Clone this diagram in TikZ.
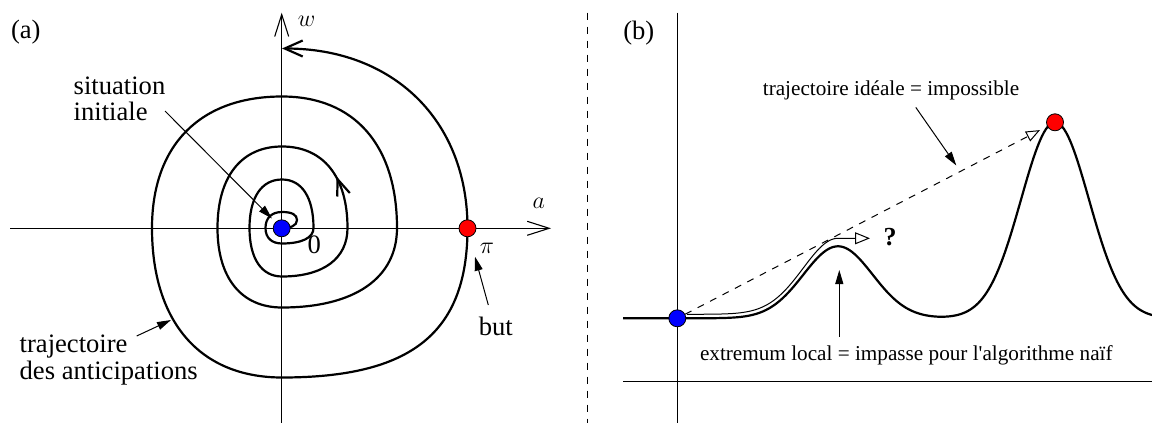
\documentclass[tikz,border=0pt]{standalone}
\usepackage{fontspec}
\setmainfont{Liberation Serif}[Ligatures=TeXOff]
\usetikzlibrary{arrows.meta}
\pgfdeclarelayer{background}
\pgfsetlayers{background,main}
\begin{document}
\begin{tikzpicture}[x=0.5pt,y=-0.5pt,
  axis/.style={line width=0.55pt},
  axisarrow/.style={axis,-{Straight Barb[length=11pt,width=7pt]}},
  traj/.style={line width=1.1pt},
  dot/.style={circle,draw=black,line width=0.4pt,minimum size=8.5pt,inner sep=0pt},
  lbl/.style={font=\fontsize{13.3}{13.3}\selectfont,inner sep=0pt},
  mlbl/.style={font=\fontsize{12.5}{12.5}\selectfont,inner sep=0pt},
  slbl/.style={font=\fontsize{10.6}{12}\selectfont,inner sep=0pt},
  ptr/.style={line width=0.5pt,-{Triangle[length=7pt,width=4pt]}},
  sep/.style={line width=0.5pt,dash pattern=on 3.5pt off 3.5pt},
]
\useasboundingbox (0,0) rectangle (1152,423);

% ---------- panel (a) ----------
\coordinate (aL) at (10,228.3);
\coordinate (aR) at (551,228.3);
\coordinate (wB) at (281.7,423);
\coordinate (wT) at (281.7,12.7);

\node[dot,fill=blue] (s0) at (281.7,228.3) {};
\node[dot,fill=red] (g0) at (467.5,228.3) {};

\begin{pgfonlayer}{background}
\draw[axisarrow] (aL) -- (aR);
\draw[axisarrow] (wB) -- (wT);
\draw[traj,-{Straight Barb[length=9pt,width=8pt]}]
 (282,228) .. controls (290,228) and (297,226) .. (297,220)
 .. controls (297,214.7) and (291.9,212) .. (282,212)
 .. controls (271.6,212) and (265.5,217.9) .. (265.5,228)
 .. controls (265.5,237.8) and (271.6,243.5) .. (282,243.5)
 .. controls (301.85,243.5) and (313.5,237.8) .. (313.5,228)
 .. controls (313.5,197.44) and (301.85,179.5) .. (282,179.5)
 .. controls (261.52,179.5) and (249.5,197.44) .. (249.5,228)
 .. controls (249.5,258.56) and (261.52,276.5) .. (282,276.5)
 .. controls (323.27,276.5) and (347.5,258.56) .. (347.5,228)
 .. controls (347.5,176.65) and (323.27,146.5) .. (282,146.5)
 .. controls (241.36,146.5) and (217.5,176.65) .. (217.5,228)
 .. controls (217.5,278.09) and (241.36,307.5) .. (282,307.5)
 .. controls (354.45,307.5) and (397,278.09) .. (397,228)
 .. controls (397,145.15) and (354.45,96.5) .. (282,96.5)
 .. controls (200.1,96.5) and (152,145.15) .. (152,228)
 .. controls (152,322.19) and (200.1,377.5) .. (282,377.5)
 .. controls (411.85,377.5) and (467.5,332.65) .. (467.5,228)
 .. controls (467.5,120.3) and (393.3,48.5) .. (282,48.5);
\end{pgfonlayer}
\draw[traj] (337.2,196.5) -- (337.6,179.3) -- (349.8,193);

\node[lbl] (la) at (25.8,32.5) {(a)};
\node[mlbl] (lw) at (306.7,21) {$w$};
\node[mlbl] (lax) at (538.7,203.3) {$a$};
\node[mlbl] (lpi) at (487,248.7) {$\pi$};
\node[lbl] (l0) at (314.2,245) {0};
\node[lbl,anchor=base] (lbut) at (495.8,335) {but};
\node[lbl,anchor=north west,align=left] (lsit) at (73.3,76) {situation\\initiale};
\node[lbl,anchor=north west,align=left] (ltraj) at (19.3,334.5) {trajectoire\\des anticipations};

\coordinate (sitT) at (165,111);
\draw[ptr,shorten >=2.5pt] (sitT) -- (s0);
\coordinate (trT) at (136.7,336);
\coordinate (trH) at (171,320);
\draw[ptr] (trT) -- (trH);
\coordinate (butT) at (488.3,305);
\coordinate (butH) at (475,256.7);
\draw[ptr] (butT) -- (butH);

% ---------- separator ----------
\coordinate (sepT) at (587.3,12.7);
\coordinate (sepB) at (587.3,423);
\draw[sep] (sepT) -- (sepB);

% ---------- panel (b) ----------
\node[lbl] (lb) at (638.8,33.5) {(b)};
\coordinate (vT) at (677.3,12.7);
\coordinate (vB) at (677.3,423);
\coordinate (hL) at (623,381.5);
\coordinate (hR) at (1152,381.5);

\node[dot,fill=blue] (s1) at (677.3,318.3) {};
\node[dot,fill=red] (g1) at (1055,122.3) {};

\begin{pgfonlayer}{background}
\draw[axis] (vT) -- (vB);
\draw[axis] (hL) -- (hR);
\draw[traj] plot[domain=623:1152,samples=260]
  (\x,{318.3-72*exp(-pow((\x-838)/49,2))-196*exp(-pow((\x-1055)/48,2))});
\end{pgfonlayer}

\draw[line width=0.5pt,-{Triangle[open,length=7.5pt,width=6pt]}]
  plot[domain=687:838,samples=90]
  (\x,{318.3-72*exp(-pow((\x-838)/49,2))-196*exp(-pow((\x-1055)/48,2))-4-4*exp(-pow((\x-838)/55,2))})
  -- (870,238.3);
\draw[sep,-{Triangle[open,length=7pt,width=5.5pt]},shorten >=4pt] (s1) -- (g1);

\node[slbl,anchor=base] (lideal) at (891,95.5) {trajectoire idéale = impossible};
\coordinate (idT) at (915.8,107.4);
\coordinate (idH) at (956.3,165.5);
\draw[ptr] (idT) -- (idH);

\node[slbl,anchor=base] (lext) at (906.3,360) {extremum local = impasse pour l'algorithme naïf};
\coordinate (exT) at (839.3,336.7);
\coordinate (exH) at (839.3,270);
\draw[ptr] (exT) -- (exH);

\node[font=\bfseries\fontsize{13}{13}\selectfont,inner sep=0pt,anchor=base] (lq) at (890,245) {?};
\end{tikzpicture}
\end{document}
